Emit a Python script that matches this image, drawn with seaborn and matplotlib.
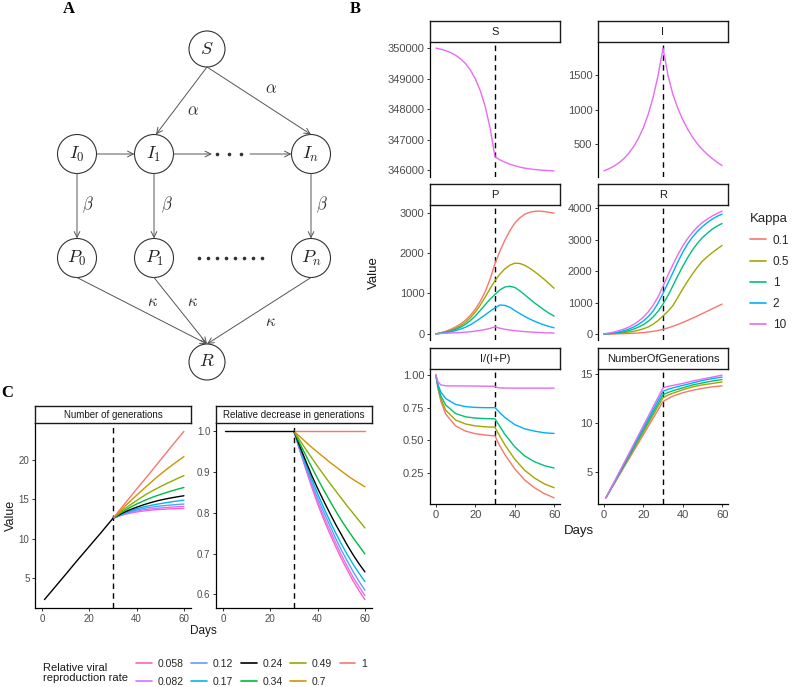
import numpy as np
import pandas as pd
import matplotlib
matplotlib.use("Agg")
import matplotlib.pyplot as plt
import seaborn as sns
from matplotlib.patches import Circle
from matplotlib.lines import Line2D

sns.set_theme(style="ticks")
plt.rcParams['font.family'] = ['Liberation Sans', 'DejaVu Sans']
plt.rcParams['mathtext.fontset'] = 'cm'

# ------------------------------------------------------------------ data (panel B)
days_b = [0, 2.5, 5, 7.5, 10, 12.5, 15, 17.5, 20, 22.5, 25, 27.5, 30,
          32.5, 35, 37.5, 40, 42.5, 45, 47.5, 50, 52.5, 55, 57.5, 60]
kappa_levels = ["0.1", "0.5", "1", "2", "10"]
kappa_colors = ["#F8766D", "#A3A500", "#00BF7D", "#00B0F6", "#E76BF3"]

S_vals = [350000, 349965, 349918, 349854, 349768, 349652, 349495, 349283, 348998,
          348612, 348091, 347389, 346440, 346340, 346265, 346200, 346150, 346105,
          346070, 346045, 346025, 346010, 345998, 345988, 345980]
I_vals = [111, 141, 178, 225, 286, 362, 458, 580, 735, 931, 1179, 1494, 1890,
          1500, 1220, 1020, 855, 715, 600, 500, 420, 350, 290, 235, 188]

P_k01 = [0, 29, 66, 112, 171, 245, 339, 459, 610, 802, 1044, 1352, 1740,
         2050, 2320, 2550, 2740, 2870, 2960, 3010, 3035, 3040, 3030, 3010, 2990]
P_k05 = [0, 22, 45, 85, 135, 200, 285, 400, 540, 710, 910, 1120, 1320,
         1480, 1610, 1700, 1750, 1745, 1700, 1630, 1545, 1450, 1350, 1240, 1130]
P_k1 = [0, 18, 38, 70, 112, 165, 235, 330, 445, 580, 720, 860, 975,
        1090, 1160, 1180, 1150, 1070, 970, 870, 770, 680, 590, 510, 440]
P_k2 = [0, 12, 27, 50, 80, 118, 165, 225, 300, 385, 470, 560, 645,
        715, 705, 660, 580, 505, 435, 370, 315, 265, 220, 183, 150]
P_k10 = [0, 13, 16, 21, 26, 33, 42, 53, 68, 86, 108, 137, 174,
         140, 114, 95, 80, 67, 56, 47, 40, 34, 28, 24, 20]

R_k01 = [0, 0.3, 1.4, 3.5, 7, 12, 19, 28, 41, 58, 80, 108, 145,
         190, 242, 300, 363, 430, 500, 573, 648, 723, 799, 875, 948]
R_k05 = [0, 2, 8, 18, 35, 55, 80, 115, 160, 220, 310, 425, 570,
         720, 900, 1160, 1430, 1680, 1915, 2130, 2320, 2460, 2590, 2710, 2820]
R_k1 = [0, 5, 18, 38, 65, 100, 150, 215, 295, 400, 540, 720, 950,
        1220, 1530, 1850, 2150, 2430, 2680, 2890, 3070, 3210, 3340, 3440, 3520]
R_k2 = [0, 10, 30, 60, 100, 150, 215, 300, 410, 550, 730, 980, 1290,
        1620, 1950, 2290, 2600, 2870, 3090, 3270, 3420, 3550, 3660, 3750, 3820]
R_k10 = [0, 25, 57, 98, 149, 214, 296, 401, 533, 700, 912, 1181, 1520,
         1870, 2200, 2520, 2800, 3040, 3240, 3410, 3550, 3660, 3760, 3840, 3914]

days_frac = [0, 1, 2.5, 5, 10, 15, 20, 25, 30, 31, 32.5, 35, 40, 45, 50, 55, 60]
F_k01 = [1.0, 0.90, 0.80, 0.70, 0.61, 0.57, 0.55, 0.54, 0.533, 0.50, 0.455, 0.39, 0.28, 0.195, 0.135, 0.09, 0.057]
F_k05 = [1.0, 0.91, 0.82, 0.73, 0.655, 0.625, 0.61, 0.603, 0.60, 0.57, 0.53, 0.465, 0.355, 0.27, 0.21, 0.165, 0.135]
F_k1 = [1.0, 0.92, 0.84, 0.77, 0.705, 0.68, 0.67, 0.666, 0.664, 0.64, 0.605, 0.545, 0.45, 0.38, 0.335, 0.305, 0.286]
F_k2 = [1.0, 0.93, 0.87, 0.82, 0.775, 0.758, 0.752, 0.75, 0.75, 0.735, 0.71, 0.675, 0.62, 0.588, 0.57, 0.557, 0.552]
F_k10 = [1.0, 0.95, 0.925, 0.918, 0.917, 0.917, 0.916, 0.915, 0.914, 0.905, 0.902, 0.901, 0.900, 0.900, 0.900, 0.900, 0.900]

days_gen = [1, 5, 10, 15, 20, 25, 30, 32.5, 35, 40, 45, 50, 55, 60]
G_k01 = [2.35, 3.71, 5.41, 7.11, 8.80, 10.50, 12.2, 12.5, 12.75, 13.1, 13.35, 13.55, 13.7, 13.8]
G_k05 = [2.35, 3.76, 5.53, 7.30, 9.06, 10.83, 12.6, 12.85, 13.05, 13.4, 13.7, 13.9, 14.05, 14.2]
G_k1 = [2.35, 3.81, 5.63, 7.45, 9.27, 11.08, 12.9, 13.12, 13.3, 13.6, 13.9, 14.1, 14.3, 14.45]
G_k2 = [2.35, 3.85, 5.73, 7.61, 9.49, 11.37, 13.25, 13.44, 13.6, 13.85, 14.1, 14.35, 14.55, 14.7]
G_k10 = [2.35, 3.90, 5.84, 7.78, 9.72, 11.66, 13.6, 13.74, 13.85, 14.05, 14.3, 14.5, 14.7, 14.9]

# ------------------------------------------------------------------ data (panel C)
rate_levels = ["0.058", "0.082", "0.12", "0.17", "0.24", "0.34", "0.49", "0.7", "1"]
rate_colors = ["#FF61C3", "#DB72FB", "#619CFF", "#00B9E3", "#000000",
               "#00BA38", "#93AA00", "#D39200", "#F8766D"]
days_pre = [1, 5, 10, 15, 20, 25, 30]
gen_pre = [2.3, 3.72, 5.5, 7.3, 9.05, 10.8, 12.6]
rel_pre = [1.0, 1.0, 1.0, 1.0, 1.0, 1.0, 1.0]
days_post = [30, 32.5, 35, 37.5, 40, 42.5, 45, 47.5, 50, 52.5, 55, 57.5, 60]
gen_0058 = [12.6, 12.87, 13.1, 13.26, 13.4, 13.51, 13.6, 13.67, 13.72, 13.76, 13.8, 13.83, 13.85]
gen_0082 = [12.6, 12.9, 13.15, 13.34, 13.5, 13.63, 13.75, 13.83, 13.9, 13.96, 14.01, 14.06, 14.1]
gen_012 = [12.6, 12.92, 13.2, 13.44, 13.65, 13.81, 13.95, 14.06, 14.15, 14.22, 14.29, 14.35, 14.4]
gen_017 = [12.6, 12.97, 13.3, 13.57, 13.8, 14.0, 14.17, 14.32, 14.45, 14.57, 14.69, 14.8, 14.9]
gen_024 = [12.6, 13.02, 13.4, 13.72, 14.0, 14.26, 14.5, 14.71, 14.9, 15.06, 15.2, 15.33, 15.45]
gen_034 = [12.6, 13.12, 13.6, 14.02, 14.4, 14.74, 15.06, 15.35, 15.61, 15.85, 16.08, 16.3, 16.5]
gen_049 = [12.6, 13.22, 13.8, 14.34, 14.85, 15.34, 15.8, 16.21, 16.6, 16.97, 17.32, 17.67, 18.0]
gen_07 = [12.6, 13.35, 14.1, 14.82, 15.52, 16.2, 16.87, 17.53, 18.16, 18.76, 19.33, 19.88, 20.4]
gen_1 = [12.6, 13.52, 14.45, 15.38, 16.3, 17.2, 18.1, 19.02, 19.95, 20.88, 21.8, 22.7, 23.6]
rel_0058 = [1.0, 0.952, 0.907, 0.863, 0.822, 0.785, 0.751, 0.719, 0.688, 0.660, 0.633, 0.609, 0.587]
rel_0082 = [1.0, 0.954, 0.910, 0.868, 0.828, 0.793, 0.760, 0.728, 0.697, 0.669, 0.642, 0.619, 0.597]
rel_012 = [1.0, 0.955, 0.913, 0.874, 0.837, 0.803, 0.771, 0.739, 0.709, 0.682, 0.656, 0.632, 0.610]
rel_017 = [1.0, 0.959, 0.920, 0.883, 0.847, 0.814, 0.782, 0.752, 0.724, 0.698, 0.674, 0.652, 0.631]
rel_024 = [1.0, 0.963, 0.927, 0.892, 0.860, 0.830, 0.801, 0.773, 0.747, 0.721, 0.697, 0.675, 0.655]
rel_034 = [1.0, 0.970, 0.941, 0.912, 0.884, 0.857, 0.831, 0.806, 0.782, 0.760, 0.739, 0.719, 0.699]
rel_049 = [1.0, 0.978, 0.956, 0.935, 0.914, 0.894, 0.874, 0.855, 0.836, 0.817, 0.799, 0.781, 0.763]
rel_07 = [1.0, 0.987, 0.974, 0.961, 0.949, 0.937, 0.925, 0.914, 0.903, 0.892, 0.882, 0.873, 0.864]
rel_1 = [1.0, 1.0, 1.0, 1.0, 1.0, 1.0, 1.0, 1.0, 1.0, 1.0, 1.0, 1.0, 1.0]


def long_df(days, series):
    rows = []
    for name, vals in series.items():
        for d, v in zip(days, vals):
            rows.append((d, v, name))
    return pd.DataFrame(rows, columns=["Days", "Value", "grp"])


# ------------------------------------------------------------------ figure
W, H = 792, 687
fig = plt.figure(figsize=(W / 100, H / 100), dpi=100)


def px_axes(x0, y0, x1, y1, **kw):
    return fig.add_axes([x0 / W, 1 - y1 / H, (x1 - x0) / W, (y1 - y0) / H], **kw)


def strip(x0, y0, x1, y1, text, fs):
    sax = px_axes(x0, y0, x1, y1)
    sax.set_zorder(5)
    sax.set_xticks([])
    sax.set_yticks([])
    for s in sax.spines.values():
        s.set_visible(True)
        s.set_color("#1A1A1A")
        s.set_linewidth(1.0)
    sax.set_facecolor("white")
    sax.text(0.5, 0.47, text, ha="center", va="center", fontsize=fs,
             color="#1A1A1A", transform=sax.transAxes)


def style(ax, show_x, fs):
    sns.despine(ax=ax)
    ax.patch.set_alpha(0)
    ax.spines["left"].set_color("black")
    ax.spines["left"].set_linewidth(0.9)
    ax.spines["bottom"].set_color("black")
    ax.spines["bottom"].set_linewidth(0.9)
    ax.tick_params(labelsize=fs, labelcolor="#4D4D4D", color="#333333",
                   length=2.5, width=0.7, pad=1.5)
    if not show_x:
        ax.spines["bottom"].set_visible(False)
        ax.tick_params(axis="x", length=0, labelbottom=False)
    ax.set_xlabel("")
    ax.set_ylabel("")
    ax.grid(False)
    ax.axvline(30, color="black", lw=1.0, ls=(0, (4, 3)), zorder=0.5)


kpal = dict(zip(kappa_levels, kappa_colors))
rpal = dict(zip(rate_levels, rate_colors))

col_x = [(430, 560), (598, 728)]
row_y = [(21, 42, 177), (184, 205, 340), (348, 369, 504)]

panels_b = [
    ("S", days_b, {"10": S_vals}, [346000, 347000, 348000, 349000, 350000], "{:.0f}"),
    ("I", days_b, {"10": I_vals}, [500, 1000, 1500], "{:.0f}"),
    ("P", days_b, dict(zip(kappa_levels, [P_k01, P_k05, P_k1, P_k2, P_k10])), [0, 1000, 2000, 3000], "{:.0f}"),
    ("R", days_b, dict(zip(kappa_levels, [R_k01, R_k05, R_k1, R_k2, R_k10])), [0, 1000, 2000, 3000, 4000], "{:.0f}"),
    ("I/(I+P)", days_frac, dict(zip(kappa_levels, [F_k01, F_k05, F_k1, F_k2, F_k10])), [0.25, 0.5, 0.75, 1.0], "{:.2f}"),
    ("NumberOfGenerations", days_gen, dict(zip(kappa_levels, [G_k01, G_k05, G_k1, G_k2, G_k10])), [5, 10, 15], "{:.0f}"),
]

for i, (title, days, series, yt, fmt) in enumerate(panels_b):
    r, c = divmod(i, 2)
    x0, x1 = col_x[c]
    ys, yp, yb = row_y[r]
    ax = px_axes(x0, yp, x1, yb)
    df = long_df(days, series)
    order = [k for k in kappa_levels if k in series]
    sns.lineplot(data=df, x="Days", y="Value", hue="grp", hue_order=order,
                 palette=kpal, estimator=None, sort=False, legend=False,
                 linewidth=1.0, ax=ax)
    ax.set_xlim(-3, 63)
    ax.margins(y=0.05)
    ax.set_yticks(yt)
    ax.set_yticklabels([fmt.format(v) for v in yt])
    ax.set_xticks([0, 20, 40, 60])
    style(ax, r == 2, 8)
    strip(x0, ys, x1, yp, title, 8)

fig.text(374 / W, 1 - 273 / H, "Value", rotation=90, ha="center", va="center", fontsize=9.5, color="#1A1A1A")
fig.text(579 / W, 1 - 531 / H, "Days", ha="center", va="center", fontsize=9.5, color="#1A1A1A")

khandles = [Line2D([], [], color=c, lw=1.2) for c in kappa_colors]
leg = fig.legend(khandles, kappa_levels, title="Kappa", loc="upper left",
                 bbox_to_anchor=(748 / W, 1 - 211 / H), frameon=False, fontsize=8.5,
                 title_fontsize=9.5, handlelength=1.35, labelspacing=0.78,
                 alignment="left", handletextpad=0.55, borderaxespad=0, borderpad=0.2)

# ------------------------------------------------------------------ panel C
c_cols = [(35, 191), (216, 372)]
c_strip = (406, 423)
c_bottom = 608

gen_series = dict(zip(rate_levels, [gen_0058, gen_0082, gen_012, gen_017, gen_024,
                                    gen_034, gen_049, gen_07, gen_1]))
rel_series = dict(zip(rate_levels, [rel_0058, rel_0082, rel_012, rel_017, rel_024,
                                    rel_034, rel_049, rel_07, rel_1]))
c_panels = [
    ("Number of generations", gen_series, gen_pre, [5, 10, 15, 20], "{:.0f}"),
    ("Relative decrease in generations", rel_series, rel_pre, [0.6, 0.7, 0.8, 0.9, 1.0], "{:.1f}"),
]
for j, (title, series, pre, yt, fmt) in enumerate(c_panels):
    x0, x1 = c_cols[j]
    ax = px_axes(x0, c_strip[1], x1, c_bottom)
    df = long_df(days_post, series)
    sns.lineplot(data=df, x="Days", y="Value", hue="grp", hue_order=rate_levels,
                 palette=rpal, estimator=None, sort=False, legend=False,
                 linewidth=1.0, ax=ax)
    dpre = pd.DataFrame({"Days": days_pre, "Value": pre})
    sns.lineplot(data=dpre, x="Days", y="Value", color="black", estimator=None,
                 sort=False, linewidth=1.0, ax=ax)
    ax.set_xlim(-3, 63)
    ax.margins(y=0.05)
    ax.set_yticks(yt)
    ax.set_yticklabels([fmt.format(v) for v in yt])
    ax.set_xticks([0, 20, 40, 60])
    style(ax, True, 7)
    strip(x0, c_strip[0], x1, c_strip[1], title, 7)

fig.text(11 / W, 1 - 515 / H, "Value", rotation=90, ha="center", va="center", fontsize=9, color="#1A1A1A")
fig.text(203 / W, 1 - 631 / H, "Days", ha="center", va="center", fontsize=8.5, color="#1A1A1A")

fig.text(43 / W, 1 - 673 / H, "Relative viral\nreproduction rate", ha="left", va="center",
         fontsize=8, color="#1A1A1A", linespacing=1.0)
rhandles = [Line2D([], [], color=c, lw=1.2) for c in rate_colors]
fig.legend(rhandles, rate_levels, ncol=5, loc="upper left",
           bbox_to_anchor=(134 / W, 1 - 657 / H), frameon=False, fontsize=7.5,
           handlelength=1.5, columnspacing=0.75, labelspacing=0.75, handletextpad=0.55,
           borderaxespad=0, borderpad=0.2)

# ------------------------------------------------------------------ panel A (diagram)
axa = px_axes(0, 0, 360, 385)
axa.set_xlim(0, 360)
axa.set_ylim(385, 0)
axa.axis("off")

nodes = {
    "S": (207, 49), "I0": (77, 154), "I1": (154, 154), "In": (311, 154),
    "P0": (77, 258), "P1": (154, 258), "Pn": (311, 258), "R": (207, 362),
}
labels = {"S": "$S$", "I0": "$I_0$", "I1": "$I_1$", "In": "$I_n$",
          "P0": "$P_0$", "P1": "$P_1$", "Pn": "$P_n$", "R": "$R$"}
rad = {"S": 18, "R": 18}
for k, (x, y) in nodes.items():
    r = rad.get(k, 19.5)
    axa.add_patch(Circle((x, y), r, fill=False, ec="#333333", lw=0.8))
    axa.text(x, y, labels[k], ha="center", va="center", fontsize=13, color="#222222")

ecol = "#555555"


def arrow(p0, p1, head=True):
    style_ = "->,head_length=0.35,head_width=0.17" if head else "-"
    axa.annotate("", xy=p1, xytext=p0,
                 arrowprops=dict(arrowstyle=style_, color=ecol, lw=0.7,
                                 shrinkA=0, shrinkB=0))


arrow((207, 67), (156, 134.5))
arrow((207, 67), (311, 134.5))
arrow((97, 154), (134.5, 154))
arrow((173.5, 154), (212, 154))
arrow((250, 154), (291.5, 154))
axa.plot([217, 229, 241], [154, 154, 154], ls="none", marker="o", ms=1.6, color="#333333")
for x in (77, 154, 311):
    arrow((x, 173.5), (x, 238.5))
for x in (77, 154, 311):
    arrow((x, 277.5), (207, 344))
axa.plot(list(range(199, 270, 9)), [258] * len(range(199, 270, 9)), ls="none",
         marker="o", ms=1.6, color="#333333")

gk = dict(ha="center", va="center", fontsize=12, color="#333333")
axa.text(193, 111, r"$\alpha$", **gk)
axa.text(271, 89, r"$\alpha$", **gk)
for x in (88, 167, 322):
    axa.text(x, 205, r"$\beta$", **gk)
axa.text(153, 301, r"$\kappa$", **gk)
axa.text(193, 301, r"$\kappa$", **gk)
axa.text(271, 322, r"$\kappa$", **gk)

# panel letters
lk = dict(fontsize=12, fontweight="bold", family="Liberation Serif", ha="center", va="center", color="black")
fig.text(69 / W, 1 - 9 / H, "A", **lk)
fig.text(355 / W, 1 - 9 / H, "B", **lk)
fig.text(7 / W, 1 - 393 / H, "C", **lk)

fig.savefig("out.png", dpi=100)
